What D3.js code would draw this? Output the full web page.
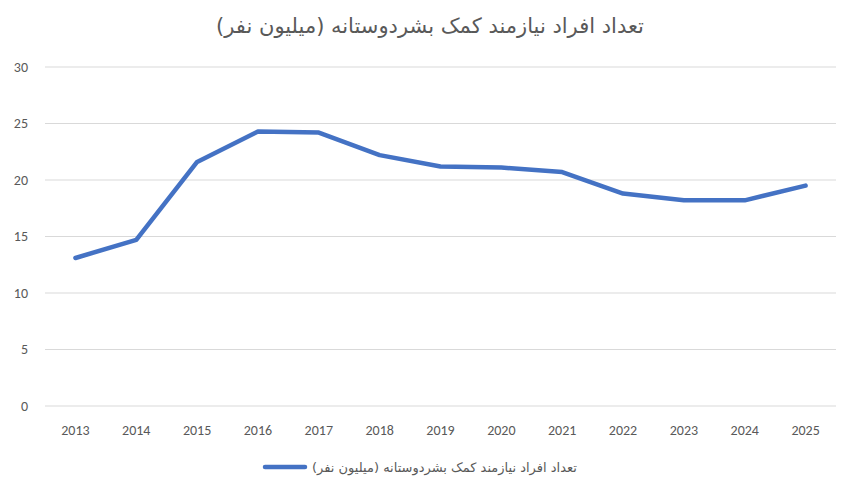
<!DOCTYPE html>
<html><head><meta charset="utf-8">
<script src="https://cdn.jsdelivr.net/npm/d3@7"></script>
<style>body{margin:0;background:#fff}</style>
</head><body><div id="chart"></div>
<script>
const years = ['2013','2014','2015','2016','2017','2018','2019','2020','2021','2022','2023','2024','2025'];
const values = [13.1, 14.7, 21.6, 24.3, 24.2, 22.2, 21.2, 21.1, 20.7, 18.8, 18.2, 18.2, 19.5];
const yTicks = [0, 5, 10, 15, 20, 25, 30];
const title = 'تعداد افراد نیازمند کمک بشردوستانه (میلیون نفر)';

const width = 850, height = 490;
const margin = { top: 67, right: 14, bottom: 84, left: 45 };
const font = 'Calibri, Carlito, "Liberation Sans", "DejaVu Sans", sans-serif';

const svg = d3.select('#chart').append('svg')
  .attr('width', width).attr('height', height)
  .style('font-family', font);

const x = d3.scaleBand().domain(years).range([margin.left, width - margin.right]);
const y = d3.scaleLinear().domain([0, 30]).range([height - margin.bottom, margin.top]);

// gridlines
svg.append('g').selectAll('line').data(yTicks).join('line')
  .attr('x1', margin.left).attr('x2', width - margin.right)
  .attr('y1', d => y(d)).attr('y2', d => y(d))
  .attr('stroke', '#d9d9d9').attr('stroke-width', 1);

// y labels
svg.append('g').selectAll('text').data(yTicks).join('text')
  .attr('x', 28).attr('y', d => y(d)).attr('dy', '0.35em')
  .attr('text-anchor', 'end').attr('fill', '#595959').style('font-size', '14px')
  .text(d => d);

// x labels
svg.append('g').selectAll('text').data(years).join('text')
  .attr('x', d => x(d) + x.bandwidth() / 2).attr('y', y(0) + 29)
  .attr('text-anchor', 'middle').attr('fill', '#595959').style('font-size', '14px')
  .text(d => d);

const line = d3.line()
  .x((d, i) => x(years[i]) + x.bandwidth() / 2)
  .y(d => y(d));

svg.append('path').datum(values)
  .attr('d', line).attr('fill', 'none')
  .attr('stroke', '#4472c4').attr('stroke-width', 4.5)
  .attr('stroke-linejoin', 'round').attr('stroke-linecap', 'round');

svg.append('text')
  .attr('x', width / 2 + 5).attr('y', 33).attr('text-anchor', 'middle')
  .attr('fill', '#595959').style('font-size', '21px').attr('direction', 'rtl')
  .style('font-family', '"DejaVu Sans", sans-serif')
  .text(title);

// legend
const lg = svg.append('g');
lg.append('line').attr('x1', 265).attr('x2', 305).attr('y1', 467).attr('y2', 467)
  .attr('stroke', '#4472c4').attr('stroke-width', 4.5).attr('stroke-linecap', 'round');
lg.append('text').attr('x', 312).attr('y', 467).attr('dy', '0.35em')
  .attr('fill', '#595959').style('font-size', '13px')
  .style('font-family', '"DejaVu Sans", sans-serif')
  .attr('direction', 'rtl').attr('text-anchor', 'end')
  .text(title);
</script></body></html>
